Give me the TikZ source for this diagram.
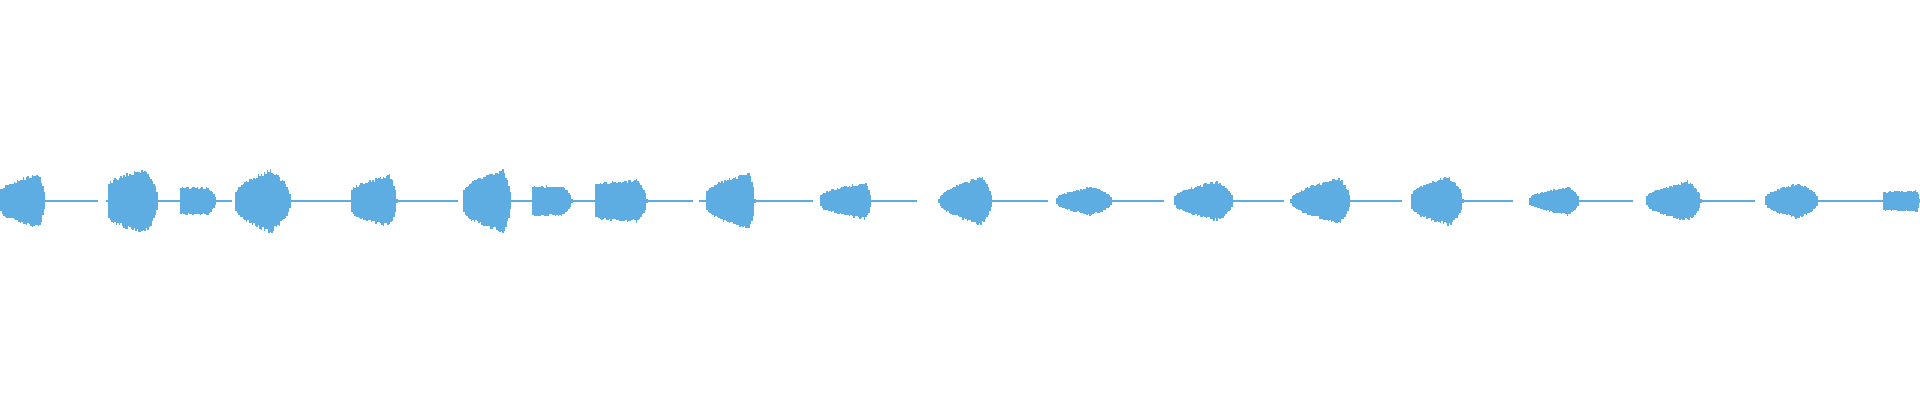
\documentclass[tikz,border=0pt]{standalone}
\begin{document}
\begin{tikzpicture}[x=0.5pt,y=0.5pt]
\definecolor{wave}{HTML}{5DADE2}
\tikzset{wavebar/.style={fill=wave,draw=none}}
\useasboundingbox (0,0) rectangle (1920,400);
\pgfmathsetseed{7}
\newcommand{\wblob}[5]{% xs xp xe a0 ap
  \pgfmathsetmacro{\xsv}{#1}\pgfmathsetmacro{\xpv}{#2}\pgfmathsetmacro{\xev}{#3}
  \pgfmathsetmacro{\xnext}{#1+1.5}
  \foreach \x in {#1,\xnext,...,#3}{
    \pgfmathsetmacro{\amp}{\x<\xpv ? (#4+(#5-#4)*((\x-\xsv)/(\xpv-\xsv+0.01))^0.6) : (#5*sqrt(max(0,1-(\x-\xpv)/(\xev-\xpv+0.01)))+1)}
    \pgfmathsetmacro{\yt}{199+1.2*\amp*(0.85+0.15*rnd)}
    \pgfmathsetmacro{\yb}{199-1.2*\amp*(0.85+0.15*rnd)}
    \fill[wavebar] (\x,\yb) rectangle (\x+1.6,\yt);
  }}
\foreach \a/\b in {0/98,106/232,235/458,463/693,699/813,820/917,938/1048,1056/1164,1174/1284,1290/1402,1411/1513,1529/1633,1646/1755,1765/1920}
  \fill[wavebar] (\a,198) rectangle (\b,200);
\wblob{0}{37}{44}{10}{23}
\wblob{108}{143}{157}{15}{28}
\wblob{180}{205}{215}{12}{12}
\wblob{235}{269}{290}{8}{27}
\wblob{351}{388}{396}{10}{22}
\wblob{463}{502}{510}{10}{27}
\wblob{532}{560}{571}{13}{13}
\wblob{595}{635}{646}{15}{18}
\wblob{706}{748}{754}{8}{25}
\wblob{820}{864}{870}{5}{16}
\wblob{938}{979}{991}{2}{21}
\wblob{1056}{1089}{1111}{3}{12}
\wblob{1174}{1215}{1232}{4}{17}
\wblob{1290}{1337}{1349}{2}{20}
\wblob{1411}{1447}{1462}{7}{21}
\wblob{1529}{1566}{1578}{3}{12}
\wblob{1646}{1686}{1700}{4}{17}
\wblob{1765}{1796}{1817}{4}{15}
\wblob{1883}{1915}{1919}{8}{9}
\end{tikzpicture}
\end{document}
